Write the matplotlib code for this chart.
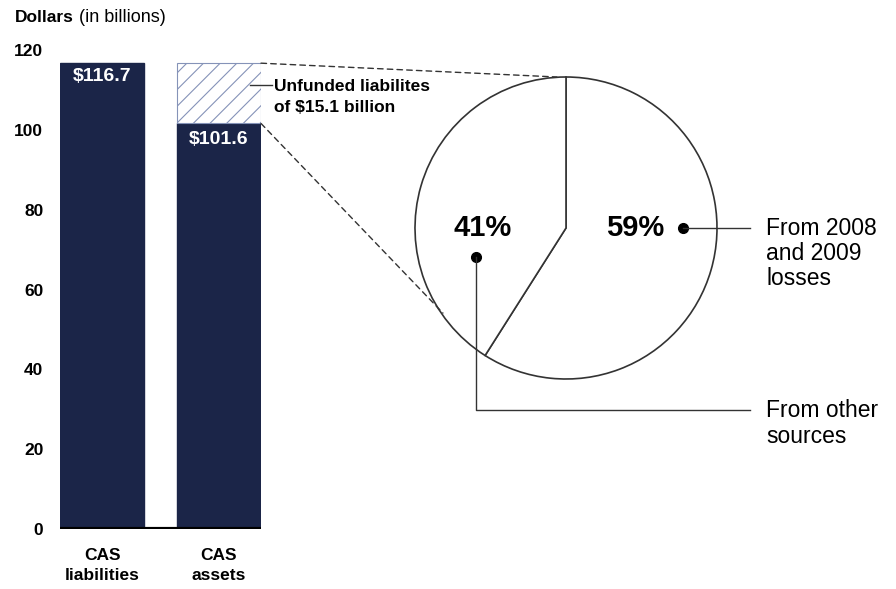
import matplotlib.pyplot as plt
from matplotlib.patches import ConnectionPatch

plt.rcParams['font.family'] = ['Liberation Sans', 'DejaVu Sans']
plt.rcParams['hatch.linewidth'] = 0.8

# data
bar_labels = ['CAS\nliabilities', 'CAS\nassets']
liabilities = 116.7
assets = 101.6
unfunded = 15.1
yticks = [0, 20, 40, 60, 80, 100, 120]
pie_shares = [59, 41]
pie_labels = ['59%', '41%']
navy = '#1b2548'

W, H = 896, 589
fig = plt.figure(figsize=(W / 100, H / 100), dpi=100)

def px_box(x0, y0, x1, y1):
    # pixel box (top-left origin) -> figure fraction rect
    return [x0 / W, 1 - y1 / H, (x1 - x0) / W, (y1 - y0) / H]

# ---- bar chart ----
bw = 0.718
ax = fig.add_axes(px_box(60, 50, 261, 529))
ax.bar([0], [liabilities], width=bw, color=navy, edgecolor=navy)
ax.bar([1], [assets], width=bw, color=navy, edgecolor=navy)
ax.bar([1], [unfunded], bottom=[assets], width=bw, color='white',
       edgecolor='#8593b8', hatch='//', linewidth=0.8)
ax.set_xlim(-bw / 2, 1 + bw / 2)
ax.set_ylim(0, 120)
ax.axhline(0, color='black', lw=3)
for s in ax.spines.values():
    s.set_visible(False)
ax.set_yticks(yticks)
ax.set_yticklabels([str(t) for t in yticks], fontsize=12.5, fontweight='bold')
ax.set_xticks([0, 1])
ax.set_xticklabels(bar_labels, fontsize=12.5, fontweight='bold', linespacing=1.35)
ax.tick_params(axis='y', length=0, pad=12)
ax.tick_params(axis='x', length=0, pad=14)

ax.text(0, 113.3, '$%.1f' % liabilities, color='white', ha='center', va='center',
        fontsize=14, fontweight='bold')
ax.text(1, 97.5, '$%.1f' % assets, color='white', ha='center', va='center',
        fontsize=14, fontweight='bold')
ax.plot([1.265, 1.45], [111.3, 111.3], color='#333333', lw=1, clip_on=False)
ax.text(1.47, 108.2, 'Unfunded liabilites\nof $15.1 billion', ha='left', va='center',
        fontsize=12.5, fontweight='bold', linespacing=1.45)

t1 = fig.text(15 / W, 1 - 18 / H, 'Dollars', fontsize=12.5, fontweight='bold', va='center')
ax.annotate(' (in billions)', xy=(1, 0.5), xycoords=t1, va='center', ha='left',
            fontsize=13, annotation_clip=False)

# ---- pie ----
cx, cy, r = 566, 228, 151
pax = fig.add_axes(px_box(cx - r, cy - r, cx + r, cy + r))
pax.pie(pie_shares, startangle=90, counterclock=False,
        colors=['white', 'white'],
        wedgeprops=dict(edgecolor='#333333', linewidth=1.2))
pax.set_xlim(-1, 1)
pax.set_ylim(-1, 1)
pax.set_aspect('equal')
pax.axis('off')

pax.text(0.46, 0.0, pie_labels[0], ha='center', va='center', fontsize=21, fontweight='bold')
pax.text(-0.55, 0.0, pie_labels[1], ha='center', va='center', fontsize=21, fontweight='bold')

pax.plot([0.775], [0], 'o', color='black', ms=7, clip_on=False)
pax.plot([0.775, 1.219], [0, 0], color='#333333', lw=1, clip_on=False)
pax.text(1.325, 0.075, 'From 2008\nand 2009\nlosses', ha='left', va='top', fontsize=16.5,
         linespacing=1.13)

pax.plot([-0.596], [-0.192], 'o', color='black', ms=7, clip_on=False)
pax.plot([-0.596, -0.596, 1.219], [-0.192, -1.205, -1.205], color='#333333', lw=1,
         clip_on=False)
pax.text(1.325, -1.135, 'From other\nsources', ha='left', va='top', fontsize=16.5,
         linespacing=1.13)

# dashed connectors from the unfunded segment to the pie
for yb, pt in [(liabilities, (-0.06, 1.0)), (assets, (-0.815, -0.563))]:
    con = ConnectionPatch(xyA=(1 + bw / 2, yb), coordsA=ax.transData,
                          xyB=pt, coordsB=pax.transData,
                          linestyle=(0, (4, 3)), color='#333333', lw=1)
    fig.add_artist(con)

fig.savefig('out.png', dpi=100)
